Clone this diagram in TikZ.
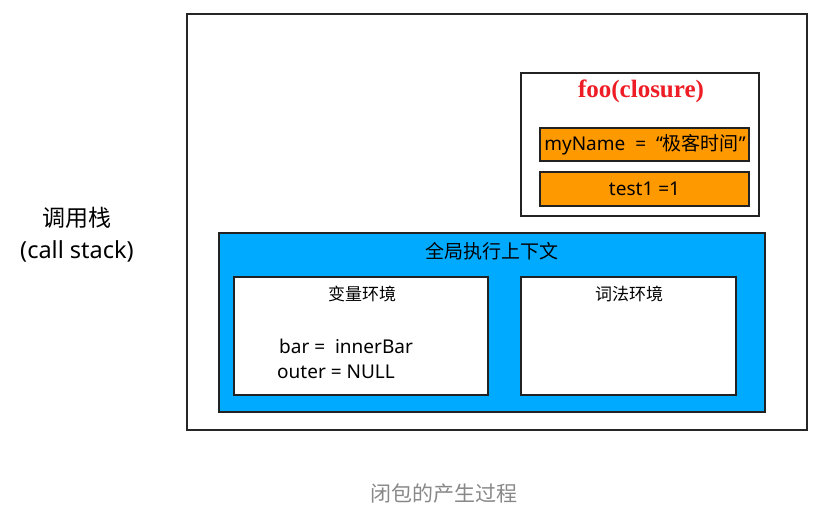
\documentclass[tikz,border=0pt]{standalone}
\usepackage{fontspec}
\setmainfont{Noto Sans}
\newfontfamily\cjk{Noto Sans CJK SC}
\newfontfamily\titlefont{Liberation Serif}
\definecolor{blueenv}{HTML}{00AAFF}
\definecolor{orangevar}{HTML}{FF9900}
\definecolor{edge}{HTML}{222222}
\definecolor{captiongray}{HTML}{888888}
\definecolor{closurered}{HTML}{EE1C24}
\begin{document}
\begin{tikzpicture}[x=1pt,y=-1pt,
  box/.style={draw=edge,line width=1.4pt},
  lbl/.style={inner sep=0pt,anchor=center}]
\useasboundingbox (0,0) rectangle (830,521);
% outer stack frame
\draw[line width=2.4pt,draw=black!85] (187,14) rectangle (807,430);
% call stack label
\node[lbl,font=\cjk\fontsize{23}{26}\selectfont] (cs1) at (77,218) {调用栈};
\node[lbl,font=\fontsize{23.5}{26}\selectfont] (cs2) at (77,251) {(call stack)};
% closure box
\draw[box,fill=white] (521,73) rectangle (759,216);
\node[lbl,font=\titlefont\bfseries\fontsize{25}{28}\selectfont,text=closurered] (foo) at (641,91.5) {foo(closure)};
\draw[box,fill=orangevar] (540,128) rectangle (749,161);
\node[lbl,font=\fontsize{19}{22}\selectfont] (myname) at (645,145) {myName\ \ =\ \ “{\cjk 极客时间}”};
\draw[box,fill=orangevar] (540,172) rectangle (749,206);
\node[lbl,font=\fontsize{19}{22}\selectfont] (test1) at (644.5,189) {test1 =1};
% global execution context
\draw[box,fill=blueenv] (219,233) rectangle (765,412);
\node[lbl,font=\cjk\fontsize{19}{22}\selectfont] (gec) at (492,251) {全局执行上下文};
\draw[box,fill=white] (234,277) rectangle (488,395);
\node[lbl,font=\cjk\fontsize{17}{20}\selectfont] (varenv) at (362,294) {变量环境};
\node[anchor=west,inner sep=0pt,font=\fontsize{19}{22}\selectfont] (bar) at (279,346) {bar =\ \ innerBar};
\node[anchor=west,inner sep=0pt,font=\fontsize{19}{22}\selectfont] (outer) at (277,372) {outer = NULL};
\draw[box,fill=white] (521,277) rectangle (736,395);
\node[lbl,font=\cjk\fontsize{17}{20}\selectfont] (lexenv) at (629,294) {词法环境};
% caption
\node[lbl,font=\cjk\fontsize{21}{24}\selectfont,text=captiongray] (cap) at (444,494) {闭包的产生过程};
\end{tikzpicture}
\end{document}
